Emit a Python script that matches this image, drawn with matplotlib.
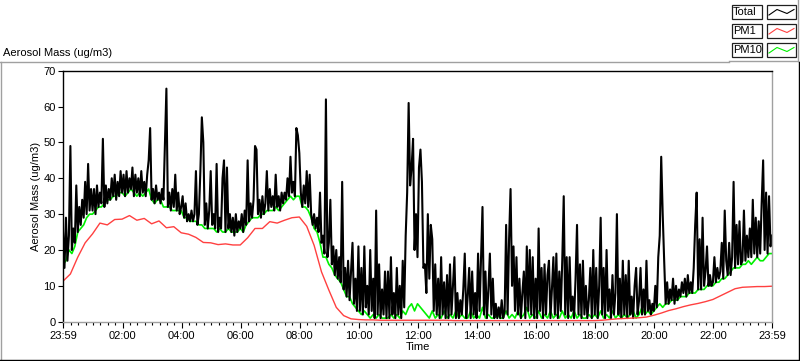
import numpy as np
import matplotlib
matplotlib.use("Agg")
import matplotlib.pyplot as plt
from matplotlib.lines import Line2D
from matplotlib.patches import Rectangle

plt.rcParams['font.family'] = ['Liberation Sans', 'DejaVu Sans']

# ---------------- data (minutes after 23:59 start) ----------------
total_step = 3   # minutes between Total samples
total = [
    25, 15, 29, 17, 24, 49, 20, 26, 22, 38, 25, 32, 27, 34, 29, 39, 30, 44, 31, 37,
    31, 37, 30, 38, 32, 36, 33, 51, 32, 38, 33, 37, 34, 40, 35, 41, 34, 39, 35, 42,
    36, 41, 35, 42, 36, 40, 37, 43, 35, 41, 36, 40, 35, 42, 36, 39, 35, 41, 45, 54,
    34, 37, 33, 38, 34, 36, 33, 37, 34, 50, 65, 32, 36, 31, 37, 32, 41, 31, 36, 30,
    32, 35, 29, 33, 28, 30, 28, 31, 28, 30, 42, 27, 30, 42, 57, 50, 27, 33, 26, 31,
    42, 27, 30, 26, 44, 25, 29, 26, 40, 45, 25, 43, 26, 30, 25, 29, 24, 30, 25, 28,
    26, 30, 25, 31, 27, 45, 28, 33, 29, 34, 49, 48, 30, 34, 29, 35, 30, 33, 42, 31,
    37, 32, 35, 31, 41, 32, 35, 31, 36, 33, 36, 34, 40, 35, 46, 36, 39, 35, 54, 52,
    47, 36, 32, 38, 33, 42, 32, 41, 30, 27, 30, 26, 29, 25, 36, 22, 24, 19, 62, 18,
    22, 34, 16, 21, 13, 20, 12, 18, 11, 39, 9, 15, 7, 17, 6, 14, 22, 5, 12, 3,
    21, 3, 15, 2, 21, 4, 10, 2, 20, 3, 12, 1, 31, 2, 16, 1, 9, 2, 14, 1,
    14, 1, 18, 2, 8, 1, 15, 2, 10, 1, 17, 4, 24, 36, 61, 38, 43, 51, 20, 30,
    18, 43, 48, 39, 15, 16, 8, 30, 12, 27, 23, 3, 16, 2, 12, 1, 18, 2, 11, 1,
    13, 1, 16, 2, 10, 18, 1, 8, 1, 6, 2, 9, 19, 1, 7, 15, 1, 14, 2, 8,
    1, 19, 3, 18, 32, 2, 14, 1, 9, 19, 2, 12, 1, 5, 1, 4, 1, 6, 1, 3,
    27, 2, 23, 37, 10, 21, 3, 18, 2, 12, 1, 8, 14, 1, 21, 3, 20, 2, 18, 1,
    12, 1, 26, 3, 15, 1, 16, 2, 13, 17, 1, 9, 18, 2, 19, 1, 14, 3, 17, 35,
    2, 18, 1, 18, 3, 7, 1, 12, 27, 2, 16, 1, 17, 2, 10, 1, 6, 15, 1, 20,
    2, 15, 1, 10, 29, 2, 15, 1, 20, 3, 9, 1, 13, 2, 8, 30, 2, 12, 1, 17,
    2, 13, 1, 17, 2, 7, 1, 10, 15, 2, 6, 15, 2, 9, 2, 17, 3, 6, 2, 5,
    3, 10, 4, 18, 24, 46, 30, 17, 5, 11, 5, 9, 6, 12, 5, 10, 6, 9, 7, 11,
    8, 12, 7, 13, 8, 11, 8, 15, 27, 36, 9, 23, 9, 29, 10, 14, 21, 10, 13, 10,
    11, 18, 11, 15, 12, 14, 22, 12, 31, 17, 13, 22, 13, 18, 39, 15, 27, 16, 28, 16,
    17, 31, 17, 24, 18, 26, 18, 34, 19, 29, 18, 28, 19, 33, 45, 20, 36, 19, 35, 21,
    24,
]

pm10_step = 6
pm10 = [
    16, 17, 20, 19, 21, 25, 26, 27, 29, 30,
    30, 31, 32, 32, 33, 34, 34, 35, 35, 36,
    36, 35, 36, 37, 36, 35, 36, 35, 36, 37,
    34, 33, 34, 34, 32, 32, 32, 31, 31, 31,
    31, 29, 29, 28, 28, 28, 27, 27, 26, 26,
    26, 26, 25, 26, 25, 25, 26, 25, 25, 25,
    26, 25, 27, 28, 29, 29, 29, 30, 30, 31,
    31, 31, 32, 31, 32, 33, 34, 35, 34, 35,
    35, 32, 32, 31, 29, 26, 25, 22, 18, 18,
    16, 15, 13, 12, 11, 9, 7, 7, 5, 4,
    3, 2, 3, 2, 1, 2, 1, 2, 1, 1,
    1, 2, 1, 2, 1, 3, 2, 4, 5, 3,
    5, 4, 3, 2, 1, 3, 1, 2, 1, 3,
    1, 2, 1, 3, 1, 2, 1, 1, 3, 1,
    2, 1, 4, 1, 2, 1, 1, 2, 1, 1,
    3, 1, 2, 1, 3, 1, 2, 4, 1, 2,
    1, 3, 1, 2, 1, 3, 1, 2, 1, 3,
    1, 2, 1, 3, 1, 2, 1, 1, 2, 1,
    2, 1, 3, 1, 2, 1, 3, 1, 2, 1,
    2, 1, 2, 3, 1, 2, 4, 2, 3, 2,
    3, 4, 5, 4, 5, 5, 6, 6, 6, 7,
    7, 7, 8, 8, 8, 9, 9, 9, 10, 10,
    10, 11, 11, 12, 12, 13, 14, 15, 15, 15,
    16, 16, 17, 16, 17, 18, 17, 17, 18, 19,
    19,
]

pm1_step = 15
pm1 = [
    11.3, 13.3, 18.0, 22.0, 24.5, 27.5, 27.0, 28.5, 28.6, 29.6,
    28.3, 28.8, 27.3, 28.1, 26.2, 26.5, 24.8, 24.4, 23.5, 22.1,
    22.0, 21.5, 21.7, 21.4, 21.4, 23.4, 26.0, 26.0, 27.9, 27.5,
    28.3, 29.0, 29.2, 26.6, 21.3, 13.9, 8.8, 4.0, 1.7, 0.8,
    0.6, 0.5, 0.5,
    0.4, 0.4, 0.4, 0.4, 0.4, 0.4, 0.4, 0.4, 0.4, 0.4,
    0.3, 0.3, 0.3, 0.3, 0.3, 0.3, 0.3, 0.3, 0.3, 0.3,
    0.3, 0.3, 0.3, 0.3, 0.3, 0.3, 0.3, 0.3, 0.3, 0.3,
    0.4, 0.6, 0.8, 0.9, 1.0, 1.1, 1.3, 1.8, 2.4, 3.1,
    3.6, 4.2, 4.7, 5.1, 5.6, 6.2, 7.2, 8.2, 9.2, 9.6,
    9.7, 9.8, 9.8, 9.9,
]

x_tick_minutes = [0, 121, 241, 361, 481, 601, 721, 841, 961, 1081, 1201, 1321, 1440]
x_tick_labels = ["23:59", "02:00", "04:00", "06:00", "08:00", "10:00", "12:00",
                 "14:00", "16:00", "18:00", "20:00", "22:00", "23:59"]
y_ticks = [0, 10, 20, 30, 40, 50, 60, 70]
series_names = ["Total", "PM1", "PM10"]
series_colors = ["#000000", "#ff4040", "#00f000"]

# ---------------- figure ----------------
W, H = 800, 361
fig = plt.figure(figsize=(W / 100, H / 100), dpi=100)
fig.patch.set_facecolor("white")


def fx(x):
    return x / W


def fy(y):
    return 1 - y / H


ax = fig.add_axes([fx(63), fy(321.7), (772 - 63) / W, (321.7 - 70.7) / H])

t_total = np.arange(len(total)) * total_step
t_pm10 = np.arange(len(pm10)) * pm10_step
t_pm1 = np.arange(len(pm1)) * pm1_step

ax.plot(t_pm10, pm10, color=series_colors[2], lw=1.2)
ax.plot(t_total, total, color=series_colors[0], lw=1.5)
ax.plot(t_pm1, pm1, color=series_colors[1], lw=1.0)

ax.set_xlim(0, 1440)
ax.set_ylim(0, 70)
ax.set_xticks(x_tick_minutes)
ax.set_xticklabels(x_tick_labels)
minor = [m for m in range(1, 1440, 15) if m not in x_tick_minutes]
ax.set_xticks(minor, minor=True)
ax.set_yticks(y_ticks)
ax.tick_params(axis='x', which='major', length=4.5, width=0.8, labelsize=8, pad=2)
ax.tick_params(axis='x', which='minor', length=2.4, width=0.8)
ax.tick_params(axis='y', which='major', length=3.6, width=0.8, labelsize=8, pad=1.5)

for side in ("top", "left"):
    ax.spines[side].set_color("black")
    ax.spines[side].set_linewidth(1.0)
for side in ("bottom", "right"):
    ax.spines[side].set_color("#a0a0a0")
    ax.spines[side].set_linewidth(1.0)

ax.set_ylabel("Aerosol Mass (ug/m3)", fontsize=8, labelpad=2)
ax.set_xlabel("Time", fontsize=8, labelpad=1)

# title
fig.text(fx(3), fy(52.5), "Aerosol Mass (ug/m3)", fontsize=8, ha="left", va="center")

# outer frame (LabVIEW style)
gray = "#a0a0a0"
frame = [
    ([0, 729], [61.5, 61.5], gray),
    ([729, 798], [60.5, 60.5], gray),
    ([798, 798], [0, 60.5], gray),
    ([1, 1], [61.5, 359], gray),
    ([799, 799], [61.5, 360], "black"),
    ([0, 799], [359.5, 359.5], "black"),
]
for xs, ys, c in frame:
    fig.add_artist(Line2D([fx(v) for v in xs], [fy(v) for v in ys], color=c, lw=1.0))

# legend (LabVIEW style plot legend)
row_top = [4.5, 23.5, 42.5]
for name, color, top in zip(series_names, series_colors, row_top):
    fig.add_artist(Rectangle((fx(732), fy(top + 14)), 30 / W, 14 / H,
                             fill=False, edgecolor="#202020", lw=0.9))
    fig.add_artist(Rectangle((fx(767), fy(top + 14)), 29 / W, 14 / H,
                             fill=False, edgecolor="#202020", lw=0.9))
    fig.text(fx(733), fy(top + 7.5), name, fontsize=8, ha="left", va="center")
    sx = [769, 777, 787, 794]
    sy = [top + 10.5, top + 5, top + 9, top + 5]
    fig.add_artist(Line2D([fx(v) for v in sx], [fy(v) for v in sy], color=color, lw=0.8))

fig.savefig("out.png", dpi=100)
